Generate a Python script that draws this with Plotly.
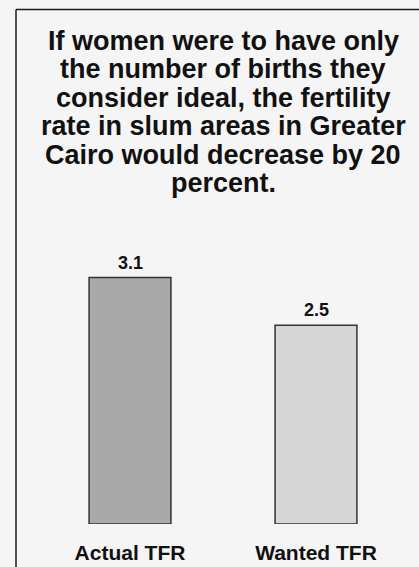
import plotly.graph_objects as go

categories = ["Actual TFR", "Wanted TFR"]
values = [3.1, 2.5]
value_labels = ["3.1", "2.5"]
bar_colors = ["#a9a9a9", "#d6d6d6"]
title_lines = [
    "If women were to have only",
    "the number of births they",
    "consider ideal, the fertility",
    "rate in slum areas in Greater",
    "Cairo would decrease by 20",
    "percent.",
]

W, H = 419, 567
ml, mr, mt, mb = 37, 10, 200, 43
plot_h = H - mt - mb
ymax = plot_h / 79.5
FONT = "Liberation Sans, Arial"

fig = go.Figure()
fig.add_trace(go.Bar(
    x=categories, y=values,
    marker=dict(color=bar_colors, line=dict(color="#333333", width=1.5)),
    width=0.44,
    cliponaxis=False,
))

annotations = []
for cat, v, lab in zip(categories, values, value_labels):
    annotations.append(dict(
        text=lab, x=cat, y=v, xref="x", yref="y", xanchor="center", yanchor="bottom",
        showarrow=False, yshift=3,
        font=dict(family=FONT, size=18, color="#111111", weight="bold"),
    ))

baseline0 = 49
spacing = 28.5
fs = 27
for i, line in enumerate(title_lines):
    base = baseline0 + i * spacing
    center_px = base - 0.3 * fs
    yp = (H - mb - center_px) / plot_h
    annotations.append(dict(
        text=line, x=0.5, xref="paper", y=yp, yref="paper",
        xanchor="center", yanchor="middle", showarrow=False,
        font=dict(family=FONT, size=fs, color="#111111", weight="bold"),
    ))

shapes = [
    dict(type="line", xref="paper", yref="paper",
         x0=(16 - ml) / (W - ml - mr), x1=(W + 5 - ml) / (W - ml - mr),
         y0=(H - mb - 9.5) / plot_h, y1=(H - mb - 9.5) / plot_h,
         line=dict(color="#1a1a1a", width=1.5)),
    dict(type="line", xref="paper", yref="paper",
         x0=(16 - ml) / (W - ml - mr), x1=(16 - ml) / (W - ml - mr),
         y0=(H - mb - 9.5) / plot_h, y1=-(mb + 5) / plot_h,
         line=dict(color="#1a1a1a", width=1.5)),
]

fig.update_layout(
    width=W, height=H,
    margin=dict(l=ml, r=mr, t=mt, b=mb),
    paper_bgcolor="#f5f5f5", plot_bgcolor="#f5f5f5",
    showlegend=False,
    annotations=annotations,
    shapes=shapes,
    xaxis=dict(showgrid=False, zeroline=False, showline=False, ticks="", automargin=False,
               tickfont=dict(family=FONT, size=21, color="#111111", weight="bold"),
               ticklabelstandoff=14),
    yaxis=dict(range=[0, ymax], visible=False, showgrid=False, zeroline=False, automargin=False),
    bargap=0.56,
)

fig.write_html("out.html")
